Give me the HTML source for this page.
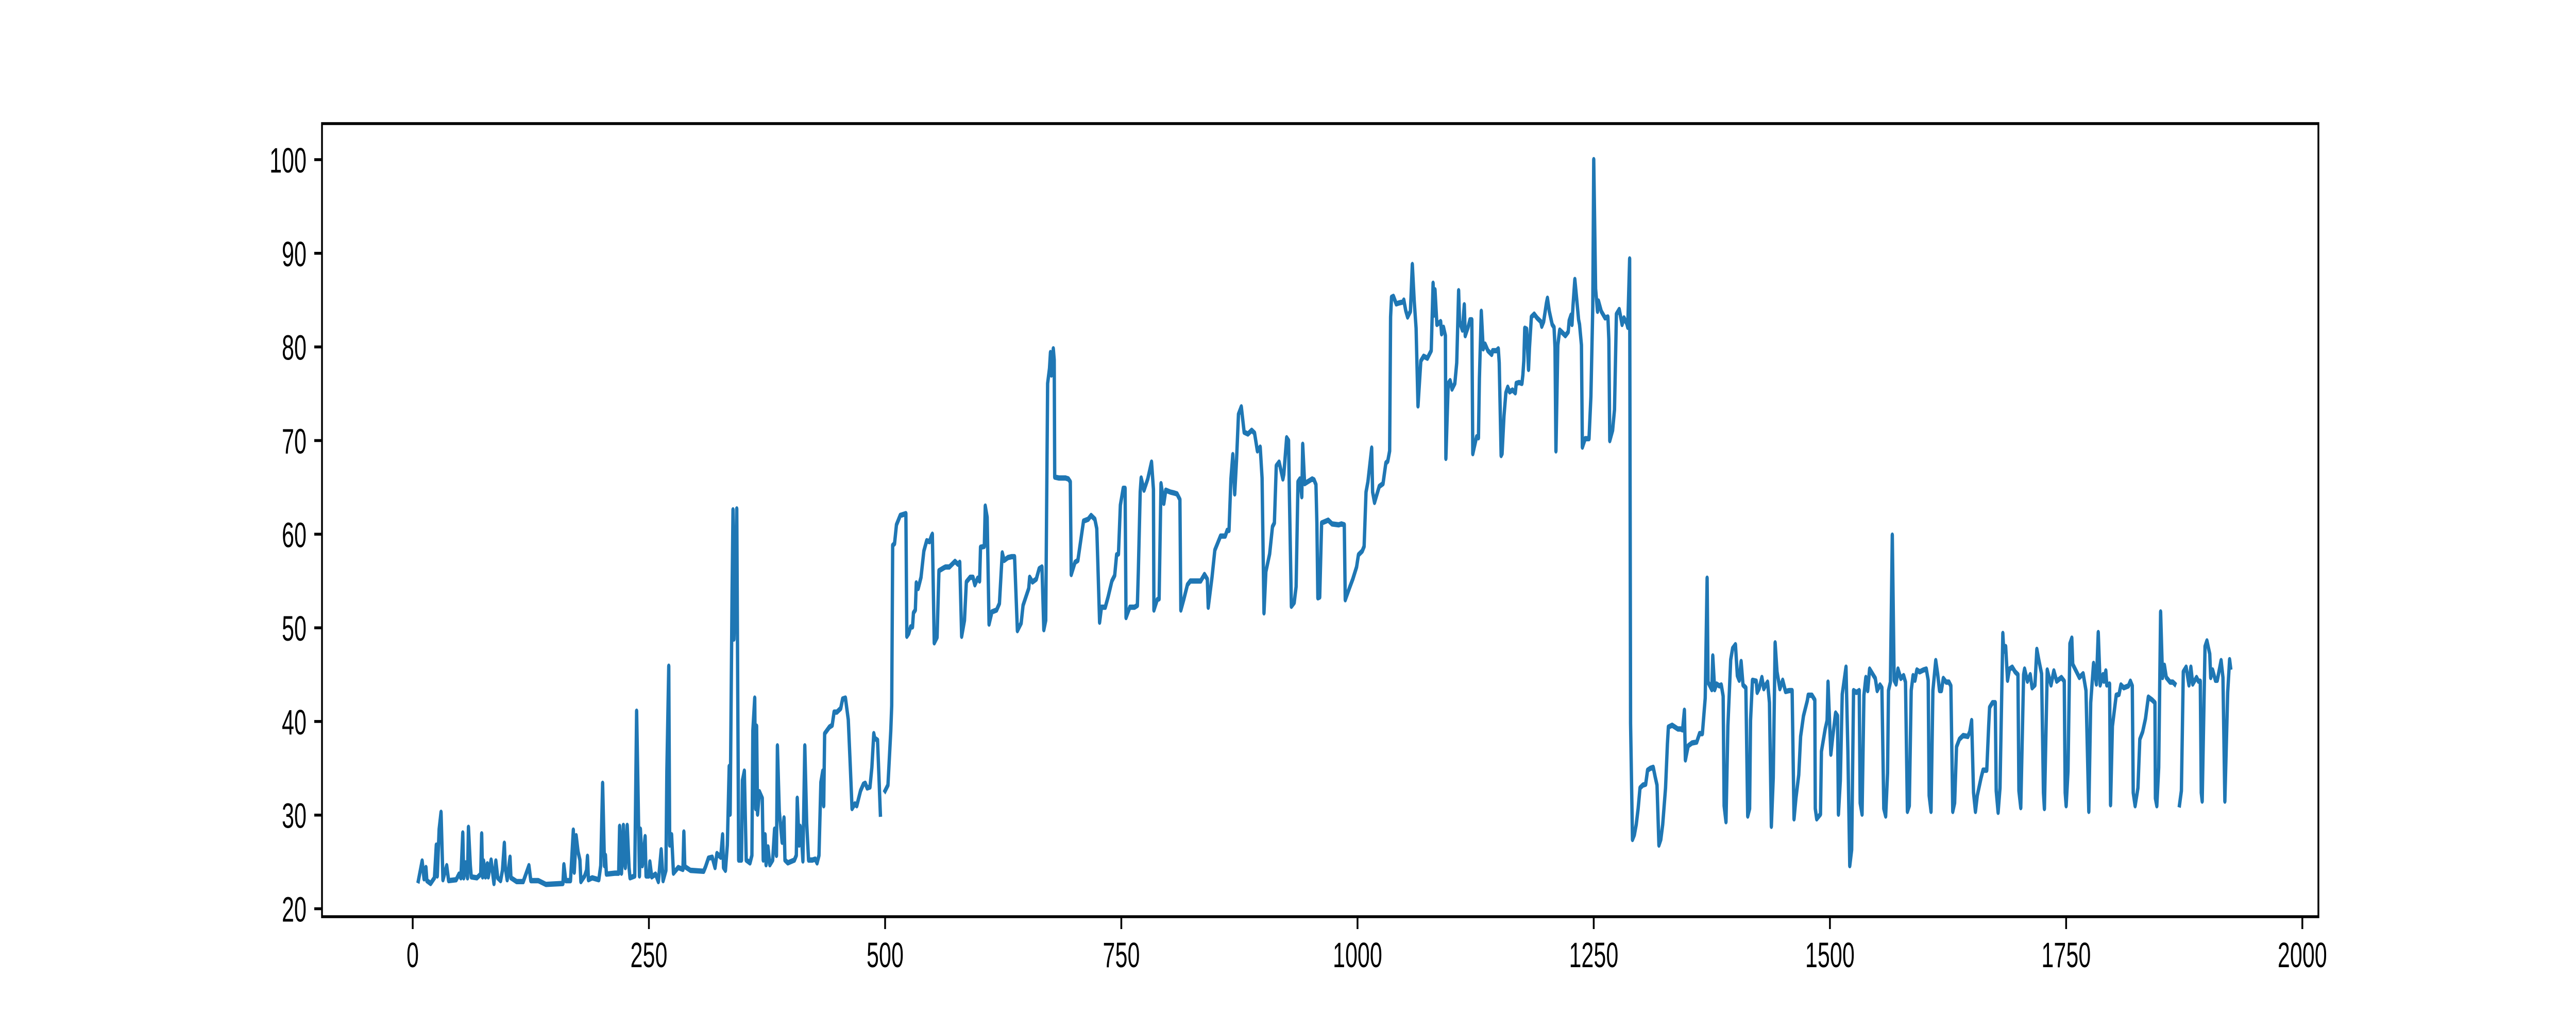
<!DOCTYPE html>
<html><head><meta charset="utf-8"><style>
html,body{margin:0;padding:0;background:#fff;width:100%;height:100%;overflow:hidden;}
svg{display:block;width:100vw;height:100vh;}
text{font-family:"Liberation Sans","DejaVu Sans",sans-serif;font-size:69px;fill:#000;}
</style></head>
<body>
<svg id="chart" viewBox="0 0 8000 2000" preserveAspectRatio="none" xmlns="http://www.w3.org/2000/svg">
<rect x="0" y="0" width="8000" height="2000" fill="#fff"/>
<g id="plot"></g>
<g id="xaxis"></g>
<g id="yaxis"></g>
<rect x="1000" y="240" width="6200" height="1540" fill="none" stroke="#000" stroke-width="5.6"/>
</svg>
<script>
const xTicks=[0,250,500,750,1000,1250,1500,1750,2000];
const yTicks=[20,30,40,50,60,70,80,90,100];
const xs=[6,10,12,14,15,19,23,25,26,28,30,32,36,38,46,49,51,53,54,56,58,59,61,62,68,72,73,74,75,77,79,80,83,85,86,88,90,93,95,97,98,100,103,104,110,117,123,125,133,141,159,160,162,167,170,171,173,175,177,178,182,184,185,186,190,197,199,201,203,204,205,214,218,219,221,223,224,225,227,229,230,235,237,238,240,241,243,246,247,250,251,253,257,260,263,265,268,269,271,272,274,276,281,286,287,288,294,308,310,313,317,320,322,326,328,329,331,333,335,336,338,339,340,342,343,344,345,348,349,351,353,357,359,360,362,363,364,365,367,370,371,373,374,376,378,381,383,385,386,388,391,393,394,397,404,406,407,409,410,412,413,415,417,419,423,426,428,430,432,434,435,436,441,444,446,449,453,455,458,461,463,465,468,470,474,477,479,481,484,486,488,489,492,495,497,
500,503,504,506,507,508,510,512,514,516,519,522,523,525,527,529,530,532,533,535,538,541,544,547,549,550,552,555,557,562,564,568,571,574,577,579,581,584,586,590,593,595,598,600,601,605,606,608,610,613,618,621,624,626,630,634,637,640,644,646,649,652,653,656,660,663,666,668,670,672,674,675,676,678,679,679.5,684,691,694,696,697,701,704,707,710,715,718,722,724,725,727,729,733,736,740,743,745,747,749,752,754,755,759,764,767,768,770,771,774,778,782,784,784.5,788,790,792,795,797,802,806,809,812,813,816,820,823,834,838,841,842,846,849,855,860,862,864,866,868,870,872,874,877,880,884,888,891,894,897,899,901,903,907,910,912,914,917,921,922,925,927,928,930,933,935,937,939,941,942,944,952,954,956,957,958,960,962,969,973,980,983,986,987,992,995,999,1001,1005,1007,1009,1011,1015,1016,1018,1023,1027,1030,
1032,1034,1035,1036,1038,1041,1044,1048,1049,1051,1053,1056,1058,1060,1062,1064,1067,1070,1074,1078,1080,1081,1082,1084,1088,1089,1091,1093,1093.5,1096,1098,1100,1103,1105,1107,1108,1111,1113,1114,1117,1119,1121,1122,1126,1128,1129,1131,1133,1135,1138,1142,1143,1147,1149,1150,1152,1153,1155,1157,1159,1161,1164,1167,1168,1171,1174,1175,1176,1177,1179,1181,1182,1184,1187,1190,1194,1195,1197,1200,1201,1203,1206,1208,1209,1210,1212,1214,1216,1220,1223,1224,1226,1227,1228,1230,1232,1234,1235,1237,1238,1241,1245,1247,1249,1250,1252,1254,1255,1258,1262,1265,1266,1267,1270,1272,1274,1277,1280,1282,1285,1286,1288,1289,1291,1293,1295,1297,1299,1302,1305,1307,1310,1313,1315,1317,1319,1321,1323,1326,1328,1329,1333,1336,1339,1342,1344,1346,1347,1350,1354,1359,1362,1365,1368,1370,1371,1375,1376,1378,1380,1383,1385,1387,1388,1390,1392,1395,1397,1400,1402,1404,1406,1408,1411,1413,1415,1416,1418,1422,1423,1425,1428,1430,1432,1434,1436,1438,1440,1442,1444,1447,1450,1453,1457,1460,1462,1464,1467,1469,1472,1476,1477,1481,1484,1484.5,1486,1490,1491,1495,1497,1498,1501,1503,1506,1508,1509,1511,1513,1517,1519,1521,1523,1525,1528,1531,1532,1534,1536,1538,1540,1542,
1548,1550,1553,1555,1557,1559,1561,1562,1564,1566,1568,1570,1572,1575,1578,1580,1582,1584,1586,1588,1590,1592,1595,1599,1602,1604,1605,1607,1609,1612,1614,1616,1618,1620,1623,1626,1628,1630,1632,1634,1637,1641,1646,1648,1650,1652,1654,1656,1660,1662,1666,1668,1669,1672,1675,1676,1678,1680,1683,1684,1686,1688,1690,1693,1696,1699,1700,1702,1705,1706,1709,1712,1714,1717,1719,1721,1724,1726,1727,1730,1734,1737,1740,1745,1748,1749,1750,1752,1754,1756,1757,1761,1764,1768,1771,1774,1776,1779,1782,1784,1786,1789,1790,1792,1793,1796,1797,1799,1803,1806,1808,1811,1816,1818,1820,1821,1823,1826,1828,1831,1834,1837,1841,1844,1844.5,1846,1848,1850,1852,1854,1856,1860,1863,1865,1867,1870,1872,1874,1877,1880,1882,1884,1888,1890,1892,1893,1894,1897,1899,1902,1903,1905,1908,1910,1914,1916,1918,1921,1923,1924];
const ys=[23,25.1,23.2,24.4,23,22.7,23.3,26.8,23.5,28.5,30.3,23.1,24.6,23,23.1,23.7,23.3,28.1,23.3,24.9,23.3,28.7,24.6,23.4,23.3,23.7,28,23.4,25.1,23.4,24.8,23.4,25.2,23.5,22.7,25.1,23.3,23,24.1,27,24.4,23.1,25.5,23.3,22.9,22.9,24.6,23,23,22.6,22.7,24.7,23,23,28.4,23.9,27.8,26.1,25.2,22.9,23.5,24.1,25.6,23.1,23.3,23.1,24.6,33.4,24.6,25.7,23.7,23.8,23.8,28.8,23.8,28.9,25.2,24.4,28.9,24.4,23.3,23.5,41.1,35.4,23.5,28.5,24.6,27.7,23.5,23.5,25,23.4,23.7,22.9,26.3,23,24.1,34.7,45.9,26.8,27.9,23.8,24.4,24.2,28.2,24.5,24.1,24,24.5,25.4,25.5,24.4,25.9,25.5,27.9,24.4,24.1,26.8,35.2,30.1,53.8,62.6,48.8,57,62.7,43.4,25.2,25.2,33.7,34.7,25.2,24.9,25.7,39,42.5,30.7,39.5,30.1,32.5,31.8,25.2,27.9,24.7,26.6,24.7,25.2,28.5,25.7,37.4,30.4,27.1,29.7,25.2,24.9,25.2,25.7,31.8,26.8,28.8,26.8,25.1,37.4,29.1,25.2,25.2,25.3,24.9,25.7,33.5,34.7,31,38.7,39.4,39.6,41,41,41.4,42.4,42.5,40.2,35.6,30.7,31.2,31,32.6,33.3,33.4,32.9,33,35.1,38.7,38.2,38,30.1,null,
32.6,33.2,35.1,39,41.7,58.8,59,61,61.5,62,62.1,62.2,49.1,49.4,50.1,50.1,51.6,51.9,54.8,54.2,55.4,58.2,59.3,59.2,59.8,60,48.4,49,56.1,56.4,56.5,56.5,56.8,57.1,56.8,57,49.1,50.8,54.9,55.4,55.4,54.6,55.3,55,58.6,58.7,63,61.8,50.4,51.7,51.9,52.6,58,57.2,57.5,57.6,57.6,49.7,50.5,52.4,53.3,54.2,55.4,54.9,55.2,56.3,56.5,49.8,50.8,76.1,77.7,79.4,77,79.8,78.6,66.1,66,66,65.9,65.6,55.7,57,57.2,59.3,61.4,61.6,62,61.6,60.6,57.4,50.6,52.2,52.2,53.3,55,55.6,57.8,57.9,63.1,64.9,64.9,51.1,52.2,52.2,52.4,56,64.5,66,64.7,65.9,67.7,64.8,51.9,53,53.1,65.4,63.3,64.7,64.5,64.4,64.3,63.7,51.9,53,54.6,55,55,55.7,55.2,52.2,55.4,58.3,59.8,59.8,60.4,60.4,65.9,68.5,64.3,68,72.8,73.6,70.9,70.7,71.1,70.8,68.9,69.3,66,51.6,56,57.9,60.8,61.2,67.3,67.7,65.9,66.4,70.3,70,63.7,52.3,52.7,54.4,65.6,65.9,64,69.6,65.4,65.9,65.8,65.3,61.2,53.2,53.3,61.2,61.5,61.1,61,61.1,61,53,54.4,55.2,56.5,57.8,58.2,58.7,64.5,65.6,69.2,64.5,63.4,65.1,65.4,67.6,
67.8,68.9,83.2,85.3,85.4,84.6,84.7,84.8,85,83.9,83.2,83.8,88.8,84.9,82,73.7,78.5,79,78.8,79.6,86.8,83.4,86.1,82.4,82.7,81.4,82.1,81.2,68.1,76.1,76.4,75.5,76.1,78.3,86,82.7,81.8,84.5,81.2,82.1,82.9,82.9,68.6,70.4,70.3,76.6,83.8,79.8,80.3,79.6,79.2,79.6,79.6,79.8,78.3,68.4,68.6,72.6,75.1,75.7,75.2,75.4,75.1,76.1,76.2,76.1,77,78.5,82,81.9,77.6,79.9,83.2,83.5,83.1,82.7,82.2,82.7,84.7,85.2,83.8,82.4,82.1,79.9,68.9,80.2,81.8,81.6,81.2,81.6,82.8,83.4,82.4,84.3,87.2,85.1,82.9,82.4,80.2,69.3,70.2,70.2,74.7,84.3,100,86.2,83.8,84.9,83.8,83.1,83.2,80.8,70,71.1,73.3,83.5,84,82.4,83.1,82.5,82.1,89.4,39.8,27.4,27.9,29,30.7,32.9,33.2,33.3,34.8,35,35.1,34.1,33.2,26.8,27.4,29,32.9,37.6,39.4,39.6,39.4,39.2,39.2,39.1,41.2,35.9,37.4,37.7,37.8,38.7,38.7,42.5,55.3,44.2,43.4,47,43.4,44,43.8,43.9,42.7,31,29.3,39.5,46.6,47.8,48.2,44.9,44.4,46.4,43.9,43.6,29.9,30.7,40.1,44.4,44.3,43.1,43.5,44.7,43.5,43.9,44.2,42,28.8,34,48.4,45.3,43.5,44.4,43.2,43.3,43.3,29.6,31.8,34.3,38.4,40.6,42.2,42.8,42.8,42.3,30.7,29.6,30.1,36.8,39.2,40.1,44.2,36.5,38.4,40.9,40.6,30.1,33.7,42.9,45.8,36.8,24.6,26.3,43.3,43.1,43.3,31.3,30.1,42.8,44.7,43.3,45.6,
44.6,43.3,43.9,43.6,30.7,29.9,34.5,43.3,44.2,59.9,44.4,44,45.6,44.6,44.9,44.2,30.4,31,43.3,44.9,44.4,45.5,45.3,45.5,45.6,44.4,32.1,30.4,43.3,46.5,45.1,43.3,43.3,44.6,44.2,44.2,43.8,30.4,31.3,37.3,38.1,38.5,38.4,38.9,40.1,32.4,30.4,32.1,34,34.8,34.8,39.5,41.5,42,42,32.6,30.3,32.9,49.4,47.5,48,44.4,45.6,45.8,45.3,45,32.6,30.8,45,45.6,44.3,45,43.6,43.9,47.7,46.6,45.1,32.4,30.7,45.5,43.9,45.4,44.3,44.7,44.3,32.4,31,34.7,48.3,48.9,46.1,45.3,44.7,45.1,43.3,30.4,42,46.2,44,49.5,43.9,45,44.3,45.4,43.9,44,31.1,39.5,42.8,42.9,43.9,43.6,43.8,44.3,43.8,32.4,31,32.9,38.1,38.9,40.3,42.6,42.3,42,31.8,31,35.1,51.7,44.7,46,44.7,44.2,44.2,44,null,31.1,32.6,45.3,45.8,43.9,45.8,44,44.7,44.3,44.3,32.4,31.5,48,48.6,47.2,44.7,45.5,44.4,44.4,46.5,44.7,31.5,43.1,46.6,45.8];

const X0=1000,X1=7200,Y0=240,Y1=1780;
const xmin=-96,xmax=2017,ymin=19.15,ymax=103.85;
function sx(v){return X0+(v-xmin)/(xmax-xmin)*(X1-X0);}
function sy(v){return Y1-(v-ymin)/(ymax-ymin)*(Y1-Y0);}
const NS="http://www.w3.org/2000/svg";
const plot=document.getElementById('plot');
let d="",pen=false;
const n=Math.min(xs.length,ys.length);
for(let i=0;i<n;i++){
  if(ys[i]===null){pen=false;continue;}
  d+=(pen?"L":"M")+sx(xs[i]).toFixed(1)+" "+sy(ys[i]).toFixed(1)+" ";
  pen=true;
}
const path=document.createElementNS(NS,'path');
path.setAttribute('d',d);
path.setAttribute('fill','none');
path.setAttribute('stroke','#1f77b4');
path.setAttribute('stroke-width','10.4');
path.setAttribute('stroke-linejoin','round');
path.setAttribute('stroke-linecap','square');


plot.appendChild(path);

const xa=document.getElementById('xaxis');
xTicks.forEach(t=>{
  const x=sx(t);
  const l=document.createElementNS(NS,'line');
  l.setAttribute('x1',x);l.setAttribute('x2',x);l.setAttribute('y1',Y1);l.setAttribute('y2',Y1+24);
  l.setAttribute('stroke','#000');l.setAttribute('stroke-width','5.6');
  
  
  xa.appendChild(l);
  const tx=document.createElementNS(NS,'text');
  tx.setAttribute('x',x);tx.setAttribute('y',Y1+24+24+50);tx.setAttribute('text-anchor','middle');
  tx.textContent=t;
  
  
  xa.appendChild(tx);
});
const ya=document.getElementById('yaxis');
yTicks.forEach(t=>{
  const y=sy(t);
  const l=document.createElementNS(NS,'line');
  l.setAttribute('x1',X0-24);l.setAttribute('x2',X0);l.setAttribute('y1',y);l.setAttribute('y2',y);
  l.setAttribute('stroke','#000');l.setAttribute('stroke-width','5.6');
  
  
  ya.appendChild(l);
  const tx=document.createElementNS(NS,'text');
  tx.setAttribute('x',X0-24-24);tx.setAttribute('y',y+25);tx.setAttribute('text-anchor','end');
  tx.textContent=t;
  
  
  ya.appendChild(tx);
});
</script>
</body></html>
